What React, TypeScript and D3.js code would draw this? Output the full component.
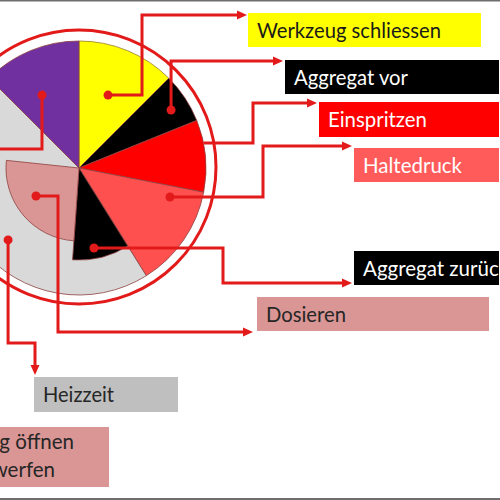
import React from "react";
import * as d3 from "d3";

// ---- data ----
const phases = [
  "Werkzeug schliessen",
  "Aggregat vor",
  "Einspritzen",
  "Haltedruck",
  "Heizzeit",
  "Werkzeug öffnen auswerfen",
  "Aggregat zurück",
  "Dosieren",
];
const startDeg = [0, 45, 68, 101, 148, 315, 148, 184];
const endDeg = [45, 68, 101, 148, 315, 360, 184, 276];
const radiusFrac = [1, 1, 1, 1, 1, 1, 0.725, 0.575];
const fills = ["#FFFF00", "#000000", "#FF0000", "#FF5050", "#D9D9D9", "#7030A0", "#000000", "#D99694"];

// label texts (boxes)
const labelLines = [
  ["Werkzeug schliessen"],
  ["Aggregat vor"],
  ["Einspritzen"],
  ["Haltedruck"],
  ["Aggregat zurück"],
  ["Dosieren"],
  ["Heizzeit"],
  ["Werkzeug öffnen", "auswerfen"],
];

// ---- layout ----
const W = 500, H = 500;
const CX = 79, CY = 168, R = 127, RING = 137;
const LINE = "#E21A1A";

const boxes = [
  { x: 248, y: 13, w: 233, h: 34, fill: "#FFFF00", color: "#1a1a1a", tl: 184 },
  { x: 285, y: 60, w: 214, h: 34, fill: "#000000", color: "#ffffff", tl: 114 },
  { x: 319, y: 102, w: 180, h: 35, fill: "#FF0000", color: "#ffffff", tl: 99 },
  { x: 354, y: 148, w: 145, h: 34, fill: "#FF5B5B", color: "#ffffff", tl: 99 },
  { x: 354, y: 251, w: 145, h: 34, fill: "#000000", color: "#ffffff", tl: 0 },
  { x: 257, y: 297, w: 232, h: 34, fill: "#D99694", color: "#262626", tl: 80 },
  { x: 34, y: 377, w: 144, h: 35, fill: "#BFBFBF", color: "#262626", tl: 71 },
  { x: -5, y: 427, w: 114, h: 60, fill: "#D99694", color: "#262626", tl: 0 },
];

// leader lines: start (polar: angle deg, radius px), optional dot, elbow points, arrow?
const leaders = [
  { a: 21.7, r: 78.5, dot: true, pts: [[142, null], [142, 15], [247, 15]], arrow: true },
  { a: 57.8, r: 108.8, dot: true, pts: [[null, 61], [283, 61]], arrow: true },
  { a: 78.6, r: 127, dot: false, pts: [[253, null], [253, 103], [317, 103]], arrow: true },
  { a: 107.7, r: 95.5, dot: true, pts: [[263, null], [263, 146], [352, 146]], arrow: true },
  { a: 169.4, r: 81.4, dot: true, pts: [[223, null], [223, 283], [352, 283]], arrow: true },
  { a: 236.9, r: 51.3, dot: true, pts: [[58, null], [58, 332], [253, 332]], arrow: true },
  { a: 224.6, r: 101, dot: true, pts: [[null, 343], [35, 343], [35, 375]], arrow: true },
  { a: 333.1, r: 81.8, dot: true, pts: [[null, 149], [-10, 149]], arrow: false },
];

const angle = d3.scaleLinear().domain([0, 360]).range([0, 2 * Math.PI]);
const radius = d3.scaleLinear().domain([0, 1]).range([0, R]);

export default function App() {
  const arc = d3.arc<any>();
  const FONT = "Lato, 'Open Sans', sans-serif";
  const FS = 20.5;

  const leaderEls = leaders.map((l, i) => {
    const th = angle(l.a);
    const sx = CX + l.r * Math.sin(th);
    const sy = CY - l.r * Math.cos(th);
    const pts: [number, number][] = [[sx, sy]];
    l.pts.forEach(([px, py]) => {
      const prev = pts[pts.length - 1];
      pts.push([px == null ? prev[0] : px, py == null ? prev[1] : py]);
    });
    let head = null;
    if (l.arrow) {
      const tip = pts[pts.length - 1];
      const prev = pts[pts.length - 2];
      const dx = tip[0] - prev[0], dy = tip[1] - prev[1];
      const len = Math.hypot(dx, dy);
      const ux = dx / len, uy = dy / len;
      const L = 10, Wd = 4.5;
      const bx = tip[0] - ux * L, by = tip[1] - uy * L;
      head = (
        <polygon
          points={`${tip[0]},${tip[1]} ${bx - uy * Wd},${by + ux * Wd} ${bx + uy * Wd},${by - ux * Wd}`}
          fill={LINE}
        />
      );
      pts[pts.length - 1] = [tip[0] - ux * 6, tip[1] - uy * 6];
    }
    return (
      <g key={i}>
        <path d={d3.line()(pts) || ""} fill="none" stroke={LINE} strokeWidth={3} strokeLinejoin="miter" />
        {head}
        {l.dot && <circle cx={sx} cy={sy} r={4.5} fill={LINE} />}
      </g>
    );
  });

  return (
    <svg width={W} height={H} style={{ position: "absolute", left: 0, top: 0, background: "#fff" }}>
      <rect x={0} y={0} width={W} height={H} fill="#ffffff" />
      {/* ring */}
      <circle cx={CX} cy={CY - 1} r={RING} fill="none" stroke={LINE} strokeWidth={3} />
      {/* wedges */}
      <g transform={`translate(${CX},${CY})`}>
        {phases.map((p, i) => (
          <path
            key={p}
            d={
              arc({
                innerRadius: 0,
                outerRadius: radius(radiusFrac[i]),
                startAngle: angle(startDeg[i]),
                endAngle: angle(endDeg[i]),
              }) || ""
            }
            fill={fills[i]}
            stroke={i === 0 ? "#9A7B2A" : "#8E4040"}
            strokeWidth={0.8}
          />
        ))}
      </g>
      {/* label boxes */}
      {boxes.map((b, i) => (
        <g key={i}>
          <rect x={b.x} y={b.y} width={b.w} height={b.h} fill={b.fill} />
          {labelLines[i].length === 1 ? (
            <text
              x={b.x + 9}
              y={b.y + 24.5}
              fill={b.color}
              fontFamily={FONT}
              fontSize={FS}
              {...(b.tl ? { textLength: b.tl, lengthAdjust: "spacingAndGlyphs" } : {})}
            >
              {labelLines[i][0]}
            </text>
          ) : (
            <>
              <text x={74} y={449} textAnchor="end" fill={b.color} fontFamily={FONT} fontSize={FS}>
                {labelLines[i][0]}
              </text>
              <text x={55} y={477} textAnchor="end" fill={b.color} fontFamily={FONT} fontSize={FS}>
                {labelLines[i][1]}
              </text>
            </>
          )}
        </g>
      ))}
      {leaderEls}
      {/* frame lines */}
      <rect x={0} y={0} width={W} height={1.5} fill="#6E6E6E" />
      <rect x={0} y={498} width={W} height={2} fill="#6E6E6E" />
    </svg>
  );
}
